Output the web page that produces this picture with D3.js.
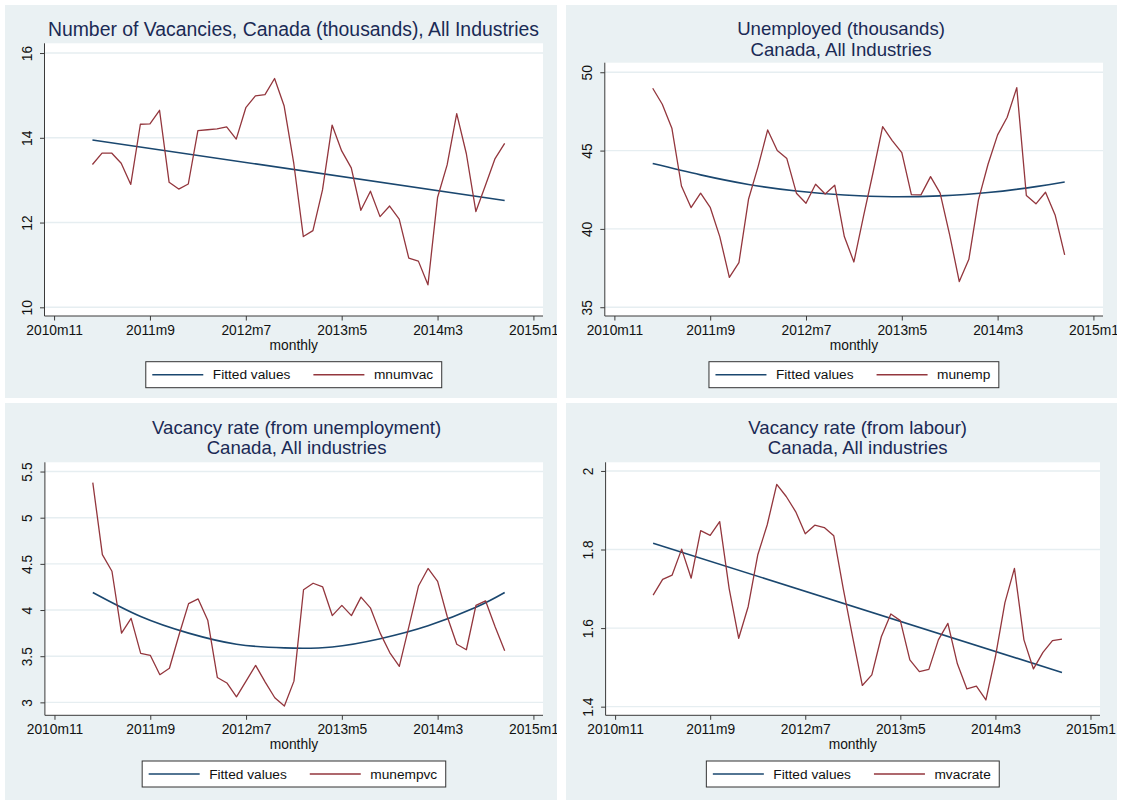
<!DOCTYPE html>
<html>
<head>
<meta charset="utf-8">
<script src="https://cdn.jsdelivr.net/npm/d3@7"></script>
<style>
  html, body { margin: 0; padding: 0; background: #ffffff; }
  svg text { font-family: "Liberation Sans", Arial, sans-serif; }
</style>
</head>
<body>
<svg id="chart" width="1123" height="803"></svg>
<script>
// ---------------- DATA ----------------
// x-axis ticks (Stata monthly dates)
const xTickLabels = ["2010m11", "2011m9", "2012m7", "2013m5", "2014m3", "2015m1"];
// observed months (2011m3 .. 2014m10)
const months = ["2011m3","2011m4","2011m5","2011m6","2011m7","2011m8","2011m9","2011m10","2011m11","2011m12",
  "2012m1","2012m2","2012m3","2012m4","2012m5","2012m6","2012m7","2012m8","2012m9","2012m10","2012m11","2012m12",
  "2013m1","2013m2","2013m3","2013m4","2013m5","2013m6","2013m7","2013m8","2013m9","2013m10","2013m11","2013m12",
  "2014m1","2014m2","2014m3","2014m4","2014m5","2014m6","2014m7","2014m8","2014m9","2014m10"];

const mnumvac = [13.37,13.64,13.64,13.40,12.90,14.32,14.33,14.65,12.95,12.79,12.91,14.17,14.19,14.21,14.26,13.97,
  14.71,14.99,15.02,15.40,14.75,13.40,11.67,11.81,12.77,14.30,13.69,13.29,12.29,12.74,12.14,12.39,12.08,11.16,
  11.09,10.53,12.59,13.36,14.57,13.63,12.26,12.88,13.51,13.87];
const munemp = [48.98,47.96,46.43,42.74,41.36,42.28,41.38,39.51,36.91,37.85,41.89,43.98,46.32,45.00,44.49,42.28,
  41.64,42.85,42.23,42.79,39.51,37.89,40.80,43.60,46.53,45.64,44.87,42.19,42.17,43.34,42.28,39.60,36.64,38.06,
  41.85,44.13,46.00,47.13,49.02,42.13,41.60,42.34,40.89,38.34];
const munempvc = [5.38,4.60,4.42,3.75,3.91,3.53,3.51,3.30,3.37,3.73,4.07,4.12,3.89,3.27,3.21,3.06,3.23,3.40,3.22,
  3.05,2.96,3.23,4.22,4.29,4.25,3.94,4.05,3.94,4.14,4.02,3.75,3.54,3.39,3.82,4.26,4.45,4.31,3.93,3.63,3.57,4.05,
  4.10,3.82,3.56];
const mvacrate = [1.684,1.724,1.735,1.801,1.727,1.848,1.836,1.871,1.700,1.574,1.655,1.786,1.863,1.966,1.935,1.896,
  1.840,1.862,1.856,1.835,1.700,1.575,1.454,1.481,1.578,1.636,1.619,1.519,1.489,1.495,1.570,1.612,1.509,1.445,
  1.452,1.417,1.527,1.665,1.752,1.570,1.496,1.538,1.568,1.572];

// fitted values (month, value)
const fitVacMonths = ["2011m3", "2014m10"];
const fitVac = [13.95, 12.52];
const fitQuadMonths = ["2011m3","2011m8","2012m1","2012m6","2012m11","2013m4","2013m9","2014m2","2014m7","2014m10"];
const fitUnemp = [44.17, 43.45, 42.84, 42.42, 42.16, 42.05, 42.11, 42.32, 42.70, 43.00];
const fitUnempvc = [4.19, 3.93, 3.75, 3.63, 3.59, 3.60, 3.69, 3.83, 4.03, 4.19];
const fitRateMonths = ["2011m3", "2014m10"];
const fitRate = [1.816, 1.487];

// y tick labels
const yTicksVac = [10, 12, 14, 16];
const yTicksUnemp = [35, 40, 45, 50];
const yTicksUnempvc = [3, 3.5, 4, 4.5, 5, 5.5];
const yTicksRate = [1.4, 1.6, 1.8, 2];

const titleVac = ["Number of Vacancies, Canada (thousands), All Industries"];
const titleUnemp = ["Unemployed (thousands)", "Canada, All Industries"];
const titleUnempvc = ["Vacancy rate (from unemployment)", "Canada, All industries"];
const titleRate = ["Vacancy rate (from labour)", "Canada, All industries"];

const legendFit = "Fitted values";
const xAxisTitle = "monthly";

// ---------------- HELPERS ----------------
function monthNum(s) {          // Stata-like monthly number
  const [y, m] = s.split("m").map(Number);
  return (y - 1960) * 12 + (m - 1);
}

// ---------------- LAYOUT ----------------
const panels = [
  { title: titleVac, values: mnumvac, fitM: fitVacMonths, fit: fitVac, name: "mnumvac", yTicks: yTicksVac, yDom: [9.795, 16.23],
    box: {x: 5, y: 5, w: 552, h: 393}, plot: {x0: 44.5, x1: 543, y0: 43.3, y1: 316}, titleX: 293.5, titleY: [36], titleSize: 19.4, curve: d3.curveLinear },
  { title: titleUnemp, values: munemp, fitM: fitQuadMonths, fit: fitUnemp, name: "munemp", yTicks: yTicksUnemp, yDom: [34.44, 50.61],
    box: {x: 566, y: 5, w: 551, h: 393}, plot: {x0: 604.8, x1: 1103, y0: 62.7, y1: 316}, titleX: 841, titleY: [35, 55.8], titleSize: 18.6, curve: d3.curveNatural },
  { title: titleUnempvc, values: munempvc, fitM: fitQuadMonths, fit: fitUnempvc, name: "munempvc", yTicks: yTicksUnempvc, yDom: [2.86, 5.60],
    box: {x: 5, y: 403, w: 552, h: 397}, plot: {x0: 44.9, x1: 543, y0: 462.3, y1: 715.3}, titleX: 296.6, titleY: [433.5, 454.3], titleSize: 18.6, curve: d3.curveNatural },
  { title: titleRate, values: mvacrate, fitM: fitRateMonths, fit: fitRate, name: "mvacrate", yTicks: yTicksRate, yDom: [1.378, 2.022],
    box: {x: 566, y: 403, w: 551, h: 397}, plot: {x0: 605.6, x1: 1100, y0: 462.3, y1: 715.3}, titleX: 857.7, titleY: [433.5, 454.3], titleSize: 18.6, curve: d3.curveLinear }
];

const COL = {
  bg: "#EAF1F3", grid: "#E6EEF1", fit: "#1A476F", data: "#93363D",
  title: "#1A2A55", axis: "#3a3a3a", text: "#111111"
};
const FONT_TICK = 13.8, FONT_LEG = 13.7;

const svg = d3.select("#chart");
const defs = svg.append("defs");
const xFirst = monthNum(xTickLabels[0]);

panels.forEach((p, pi) => {
  const b = p.box, pl = p.plot;
  defs.append("clipPath").attr("id", "clip" + pi)
    .append("rect").attr("x", b.x).attr("y", b.y).attr("width", b.w).attr("height", b.h);
  const g = svg.append("g").attr("clip-path", `url(#clip${pi})`);

  g.append("rect").attr("x", b.x).attr("y", b.y).attr("width", b.w).attr("height", b.h).attr("fill", COL.bg);
  g.append("rect").attr("x", pl.x0).attr("y", pl.y0).attr("width", pl.x1 - pl.x0).attr("height", pl.y1 - pl.y0).attr("fill", "#ffffff");

  const x = d3.scaleLinear().domain([xFirst - 1, xFirst + 51]).range([pl.x0, pl.x1]);
  const y = d3.scaleLinear().domain(p.yDom).range([pl.y1, pl.y0]);

  // gridlines
  g.append("g").selectAll("line").data(p.yTicks).join("line")
    .attr("x1", pl.x0).attr("x2", pl.x1)
    .attr("y1", d => y(d)).attr("y2", d => y(d))
    .attr("stroke", COL.grid).attr("stroke-width", 1.4);

  // y axis
  const yAxis = g.append("g").attr("transform", `translate(${pl.x0},0)`)
    .call(d3.axisLeft(y).tickValues(p.yTicks).tickSize(4.5).tickFormat(d3.format("~g")));
  yAxis.select(".domain").attr("stroke", COL.axis).attr("d", `M0,${pl.y0}V${pl.y1}`);
  yAxis.selectAll(".tick line").attr("stroke", COL.axis);
  yAxis.selectAll(".tick text")
    .attr("x", null).attr("dy", null)
    .attr("transform", "translate(-12.5,0) rotate(-90)")
    .attr("text-anchor", "middle")
    .attr("font-size", FONT_TICK).attr("fill", COL.text)
    .attr("font-family", "Liberation Sans, Arial, sans-serif");

  // x axis
  const xAxis = g.append("g").attr("transform", `translate(0,${pl.y1})`)
    .call(d3.axisBottom(x).tickValues(xTickLabels.map(monthNum)).tickSize(4.5)
      .tickFormat((d, i) => xTickLabels[i]));
  xAxis.select(".domain").attr("stroke", COL.axis).attr("d", `M${pl.x0},0H${pl.x1}`);
  xAxis.selectAll(".tick line").attr("stroke", COL.axis);
  xAxis.selectAll(".tick text").attr("dy", null).attr("y", 19)
    .attr("font-size", FONT_TICK).attr("fill", COL.text)
    .attr("font-family", "Liberation Sans, Arial, sans-serif");

  g.append("text").attr("x", (pl.x0 + pl.x1) / 2).attr("y", pl.y1 + 33.5)
    .attr("text-anchor", "middle").attr("font-size", FONT_TICK).attr("fill", COL.text).text(xAxisTitle);

  // title
  p.title.forEach((t, i) => {
    g.append("text").attr("x", p.titleX).attr("y", p.titleY[i])
      .attr("text-anchor", "middle").attr("font-size", p.titleSize).attr("fill", COL.title).text(t);
  });

  // data lines
  const line = d3.line().x(d => x(d[0])).y(d => y(d[1]));
  g.append("path")
    .datum(p.fitM.map((m, i) => [monthNum(m), p.fit[i]]))
    .attr("d", line.curve(p.curve))
    .attr("fill", "none").attr("stroke", COL.fit).attr("stroke-width", 1.6);
  g.append("path")
    .datum(months.map((m, i) => [monthNum(m), p.values[i]]))
    .attr("d", d3.line().x(d => x(d[0])).y(d => y(d[1])))
    .attr("fill", "none").attr("stroke", COL.data).attr("stroke-width", 1.3).attr("stroke-linejoin", "round");

  // legend
  const lg = g.append("g");
  const top = pl.y1 + 45.7, h = 26;
  const boxRect = lg.append("rect").attr("y", top).attr("height", h)
    .attr("fill", "#ffffff").attr("stroke", "#333333").attr("stroke-width", 1);
  const t1 = lg.append("text").attr("y", top + 17.6).attr("font-size", FONT_LEG).attr("fill", COL.text).text(legendFit);
  const t2 = lg.append("text").attr("y", top + 17.6).attr("font-size", FONT_LEG).attr("fill", COL.text).text(p.name);
  const w1 = t1.node().getComputedTextLength(), w2 = t2.node().getComputedTextLength();
  const padL = 6.5, keyLen = 51, gap = 9.5, colGap = 23, padR = 8.5;
  const col2 = keyLen + gap + w1 + colGap;
  const total = padL + col2 + keyLen + gap + w2 + padR;
  const left = (pl.x0 + pl.x1) / 2 - total / 2;
  boxRect.attr("x", left).attr("width", total);
  lg.append("line").attr("x1", left + padL).attr("x2", left + padL + keyLen)
    .attr("y1", top + h / 2).attr("y2", top + h / 2).attr("stroke", COL.fit).attr("stroke-width", 1.6);
  t1.attr("x", left + padL + keyLen + gap);
  lg.append("line").attr("x1", left + padL + col2).attr("x2", left + padL + col2 + keyLen)
    .attr("y1", top + h / 2).attr("y2", top + h / 2).attr("stroke", COL.data).attr("stroke-width", 1.4);
  t2.attr("x", left + padL + col2 + keyLen + gap);
});
</script>
</body>
</html>
